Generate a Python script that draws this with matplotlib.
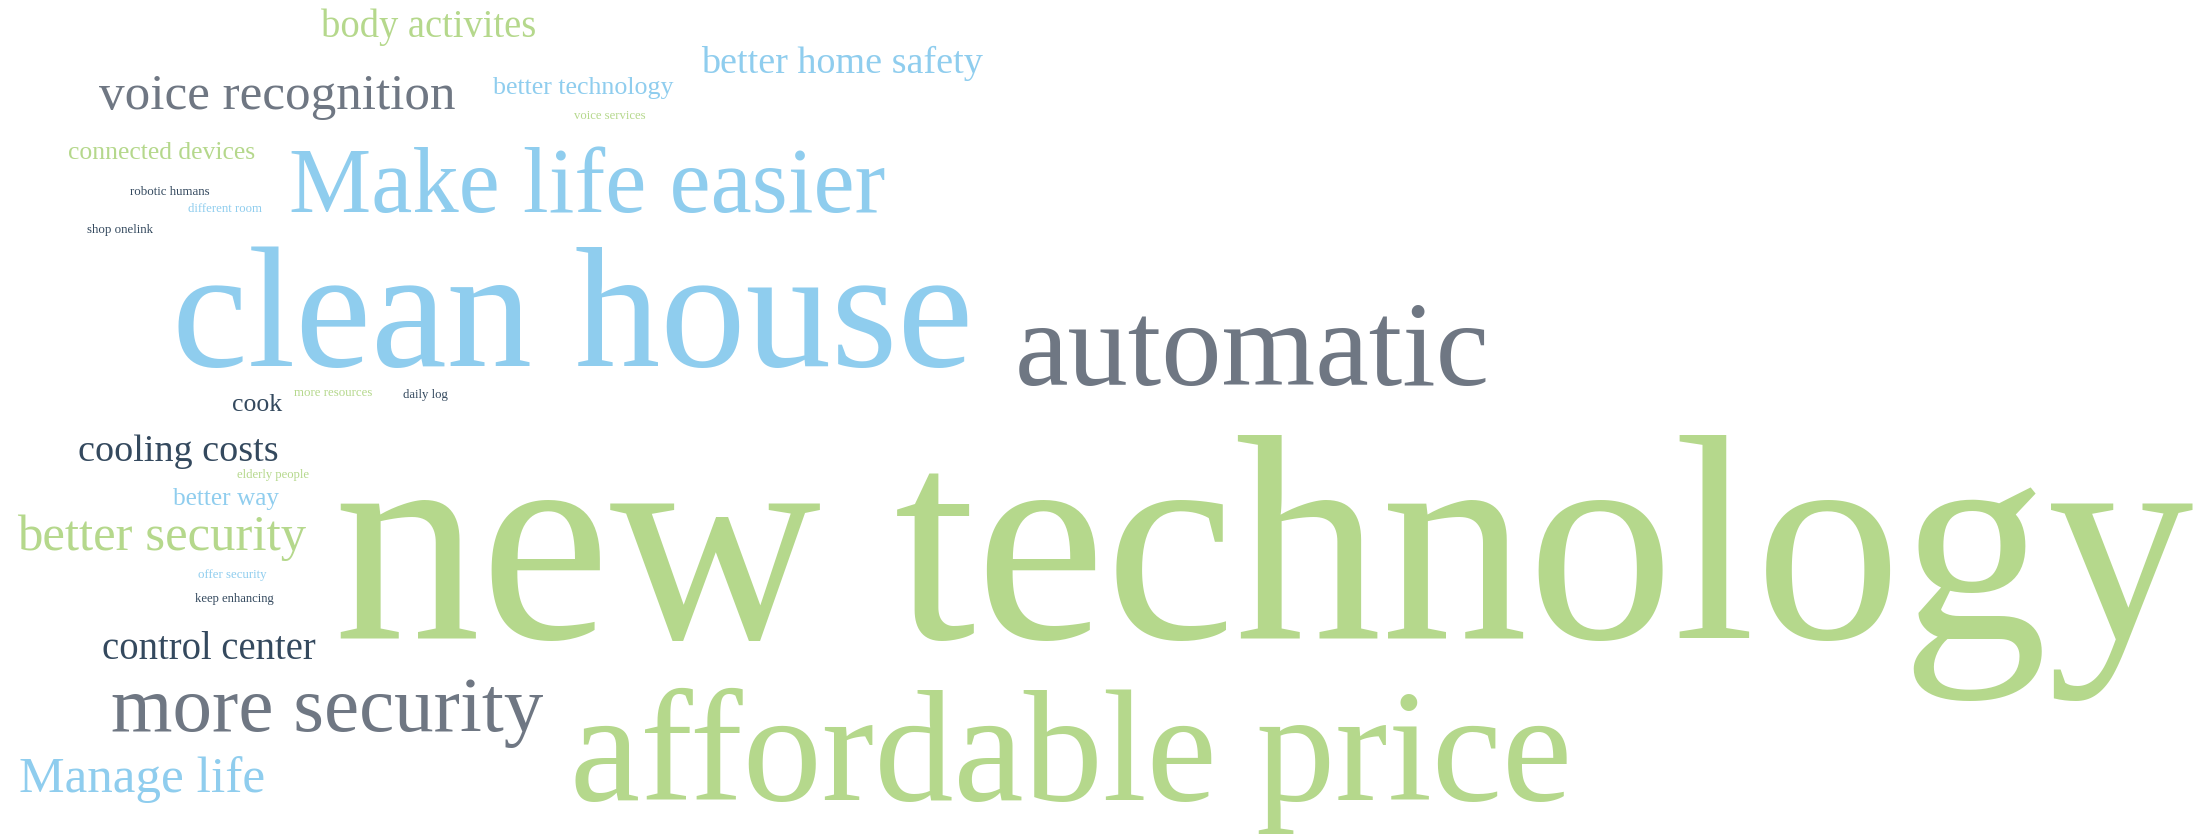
import matplotlib
matplotlib.use("Agg")
import matplotlib.pyplot as plt

# words of the cloud and their colour group
words = [
    "body activites", "better home safety", "voice recognition", "better technology",
    "voice services", "connected devices", "Make life easier", "robotic humans",
    "different room", "shop onelink", "clean house", "automatic", "cook",
    "more resources", "daily log", "cooling costs", "elderly people", "better way",
    "better security", "offer security", "keep enhancing", "new technology",
    "control center", "more security", "affordable price", "Manage life",
]
groups = [
    "green", "blue", "gray", "blue",
    "green", "green", "blue", "dark",
    "blue", "dark", "blue", "gray", "dark",
    "green", "dark", "dark", "green", "blue",
    "green", "blue", "dark", "green",
    "dark", "gray", "green", "blue",
]

palette = {"green": "#b5d88c", "blue": "#8fcdee", "gray": "#6f7783", "dark": "#34495e"}

# layout in pixels: left x, baseline y, target width
layout = [
    (321, 37, 215), (701, 73, 282), (99, 109, 356), (493, 94, 180),
    (574, 119, 71), (68, 159, 187), (289, 212, 596), (130, 195, 80),
    (188, 212, 74), (87, 233, 66), (172, 366, 801), (1015, 385, 475), (232, 411, 50),
    (294, 396, 78), (403, 398, 45), (78, 461, 200), (237, 478, 72), (173, 505, 106),
    (17, 550, 289), (198, 578, 69), (195, 602, 79), (334, 638, 1859),
    (102, 659, 213), (111, 731, 432), (570, 800, 1002), (19, 792, 246),
]

W, H = 2211, 837
fig = plt.figure(figsize=(W / 100, H / 100), dpi=100)
ax = fig.add_axes([0, 0, 1, 1])
ax.set_xlim(0, W)
ax.set_ylim(H, 0)
ax.axis("off")

texts = []
for word, grp, (x, y, w) in zip(words, groups, layout):
    t = ax.text(x, y, word, fontsize=100, family="Liberation Serif",
                color=palette[grp], ha="left", va="baseline")
    texts.append((t, w))

# scale each word so it spans its target width
fig.canvas.draw()
renderer = fig.canvas.get_renderer()
for t, w in texts:
    cur = t.get_window_extent(renderer).width
    t.set_fontsize(100 * w / cur)

fig.savefig("out.png", dpi=100, facecolor="white")
